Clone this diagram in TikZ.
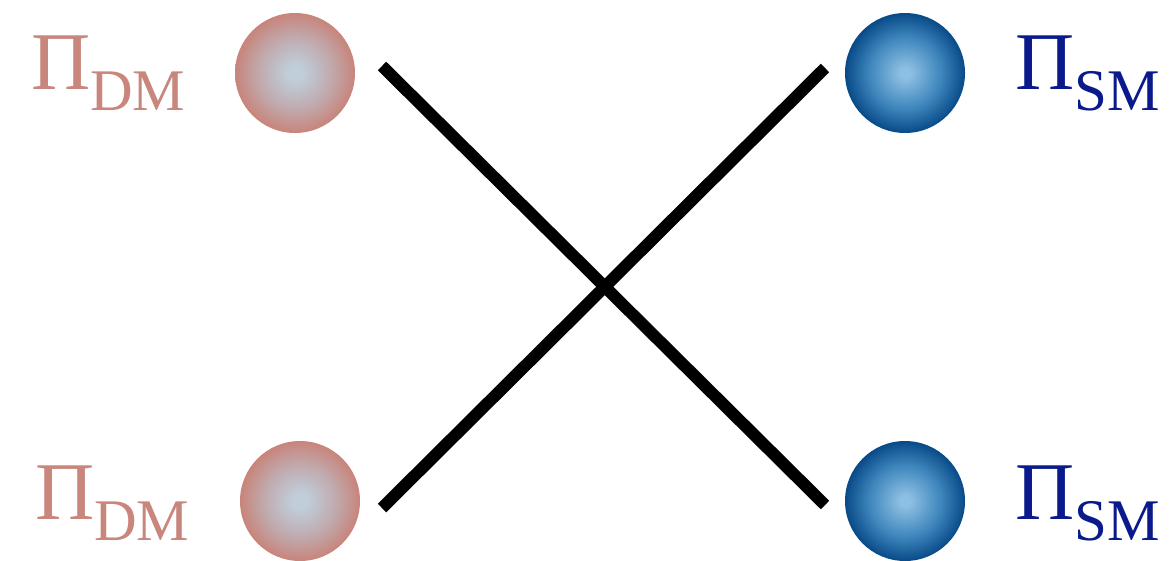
\documentclass[tikz,border=0pt]{standalone}
\usepackage{fontspec}
\setmainfont{Liberation Serif}
\definecolor{dmtext}{RGB}{200,134,124}
\definecolor{smtext}{RGB}{10,26,140}
\definecolor{dmin}{RGB}{192,206,218}
\definecolor{dmmid}{RGB}{192,170,174}
\definecolor{dmout}{RGB}{200,132,122}
\definecolor{smin}{RGB}{142,192,228}
\definecolor{smmid}{RGB}{62,134,188}
\definecolor{smout}{RGB}{8,74,136}
\pgfdeclareradialshading{dmshade}{\pgfpoint{0bp}{0bp}}{color(0bp)=(dmin); color(3bp)=(dmin); color(15bp)=(dmmid); color(25bp)=(dmout); color(50bp)=(dmout)}
\pgfdeclareradialshading{smshade}{\pgfpoint{0bp}{0bp}}{color(0bp)=(smin); color(2bp)=(smin); color(15bp)=(smmid); color(25bp)=(smout); color(50bp)=(smout)}
\tikzset{
  dmball/.style={circle, minimum size=120pt, inner sep=0pt, shading=dmshade},
  smball/.style={circle, minimum size=120pt, inner sep=0pt, shading=smshade},
  lbl/.style={anchor=base west, inner sep=0pt, outer sep=0pt},
  conn/.style={line width=12pt, black},
}
\newcommand{\plabel}[1]{\fontsize{82}{82}\selectfont Π\raisebox{-21pt}{\fontsize{59}{59}\selectfont #1}}
\begin{document}
\begin{tikzpicture}[x=1pt,y=-1pt]
\useasboundingbox (0,0) rectangle (1169,560);
\node[dmball] (dm1) at (295,73) {};
\node[dmball] (dm2) at (300,501) {};
\node[smball] (sm1) at (905,73) {};
\node[smball] (sm2) at (905,501) {};
\node[lbl, text=dmtext] (ldm1) at (31,89) {\plabel{DM}};
\node[lbl, text=dmtext] (ldm2) at (35,519) {\plabel{DM}};
\node[lbl, text=smtext] (lsm1) at (1015,89) {\plabel{SM}};
\node[lbl, text=smtext] (lsm2) at (1015,519) {\plabel{SM}};
\coordinate (a1) at (382,66);
\coordinate (b1) at (825,505);
\coordinate (a2) at (382,508);
\coordinate (b2) at (825,68);
\draw[conn] (a1) -- (b1);
\draw[conn] (a2) -- (b2);
\end{tikzpicture}
\end{document}
